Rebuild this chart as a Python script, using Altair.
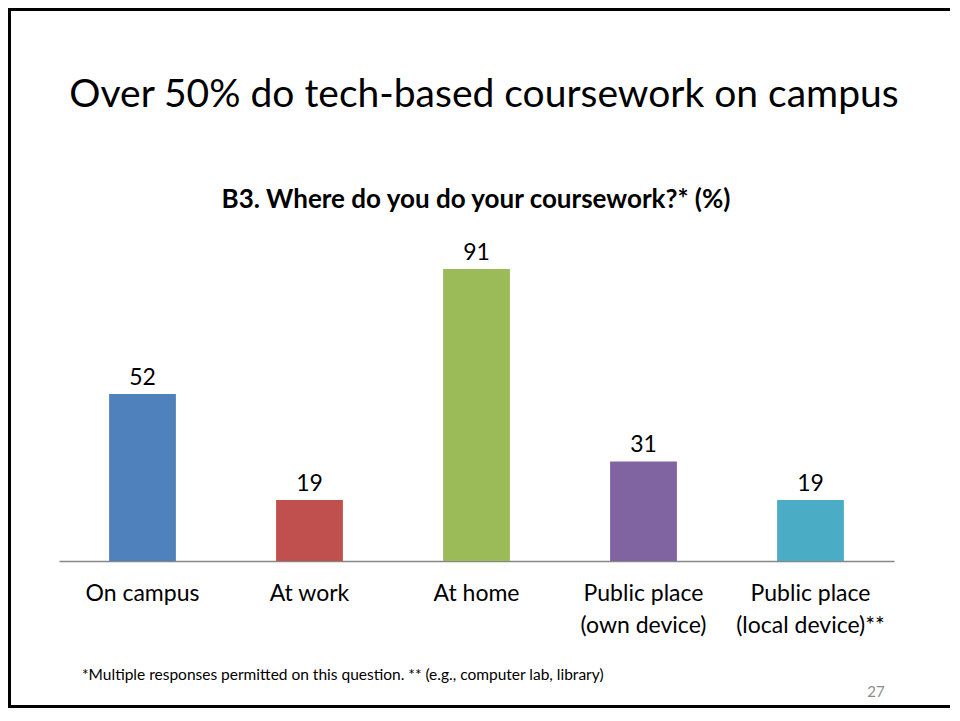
import altair as alt
import pandas as pd

categories = ["On campus", "At work", "At home", "Public place\n(own device)", "Public place\n(local device)**"]
values = [52, 19, 91, 31, 19]
colors = ["#4F81BD", "#C0504D", "#9BBB59", "#8064A2", "#4BACC6"]

title_text = "Over 50% do tech-based coursework on campus"
subtitle_text = "B3. Where do you do your coursework?* (%)"
footnote_text = "*Multiple responses permitted on this question.  ** (e.g., computer lab, library)"
page_text = "27"

FONT = "Lato"
df = pd.DataFrame({"cat": categories, "val": values})

W, H = 835, 321
PL, PT, PR, PB = 51, 232, 58, 147

xenc = alt.X("cat:N", sort=categories, title=None,
             scale=alt.Scale(paddingInner=0.6, paddingOuter=0.3),
             axis=alt.Axis(labelAngle=0, ticks=False, domainColor="#868686", domainWidth=1.5,
                           labelFontSize=23, labelFont=FONT, labelColor="#000000",
                           labelPadding=21, labelLineHeight=32, labelBaseline="top",
                           labelExpr="split(datum.label, '\\n')"))
yenc = alt.Y("val:Q", axis=None, scale=alt.Scale(domain=[0, 100]))

bars = alt.Chart(df).mark_bar().encode(
    x=xenc, y=yenc,
    color=alt.Color("cat:N", sort=categories, scale=alt.Scale(domain=categories, range=colors), legend=None),
)
labels = alt.Chart(df).mark_text(baseline="alphabetic", dy=-9, fontSize=23, font=FONT, color="#000000").encode(
    x=alt.X("cat:N", sort=categories), y=yenc, text="val:Q"
)

def txt(s, x, y, size, weight="normal", align="center", color="#000000"):
    return alt.Chart(pd.DataFrame({"t": [s]})).mark_text(
        fontSize=size, font=FONT, fontWeight=weight, align=align, baseline="middle", color=color
    ).encode(x=alt.value(x), y=alt.value(y), text="t:N")

title = txt(title_text, 425, -145, 39)
subtitle = txt(subtitle_text, 417, -40, 26, weight="bold")
foot = txt(footnote_text, 23, 435, 15.5, align="left")
page = txt(page_text, 817, 452, 15, color="#8C8C8C")

one = pd.DataFrame({"a": [0]})
def bar_rect(x, x2, y, y2):
    return alt.Chart(one).mark_rect(color="#000000").encode(
        x=alt.value(x), x2=alt.value(x2), y=alt.value(y), y2=alt.value(y2))

top_line = bar_rect(-PL, W + PR - 2, -PT, -PT + 3)
left_line = bar_rect(-PL, -PL + 3, -PT, H + PB)
bottom_line = bar_rect(-PL, W + PR - 2, H + PB - 3, H + PB)

chart = alt.layer(bars, labels, title, subtitle, foot, page, top_line, left_line, bottom_line).properties(
    width=W, height=H,
    background="#ffffff",
    autosize=alt.AutoSizeParams(type="none"),
    padding={"left": PL, "top": PT, "right": PR, "bottom": PB},
).configure_view(strokeWidth=0, stroke="transparent")

chart.save("out.html", embed_options={"renderer": "svg", "actions": False})
